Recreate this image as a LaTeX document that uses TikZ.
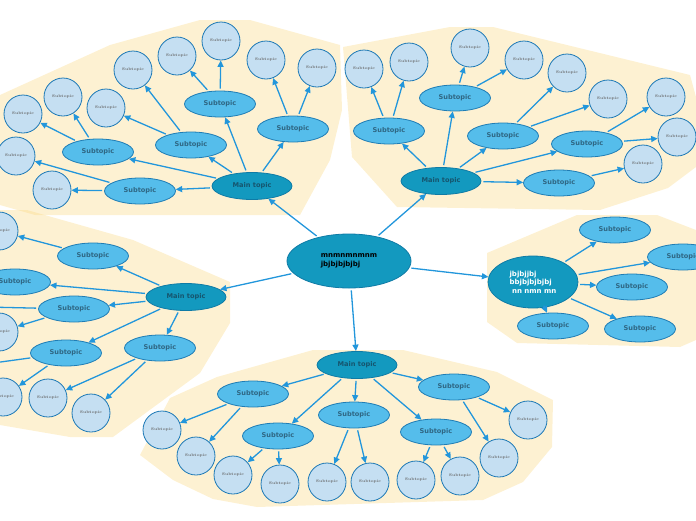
\documentclass[tikz,border=0pt]{standalone}
\usepackage{fontspec}
\usepackage{tikz}
\usepackage{xcolor}
\usetikzlibrary{arrows.meta,shapes.geometric}
\newfontfamily\topicfont{DejaVu Sans}
\definecolor{cream}{HTML}{FAD77F}
\definecolor{hubfill}{HTML}{1399BF}
\definecolor{hubline}{HTML}{0F7BA6}
\definecolor{maintext}{HTML}{16556E}
\definecolor{subfill}{HTML}{55BDEB}
\definecolor{subline}{HTML}{1F7DB5}
\definecolor{subtext}{HTML}{2F6784}
\definecolor{leaffill}{HTML}{C5DFF2}
\definecolor{leafline}{HTML}{1C78B5}
\definecolor{edge}{HTML}{2296DB}

\begin{document}
\begin{tikzpicture}[
          x=1pt, y=-1pt,
          zone/.style={fill=cream, fill opacity=0.35, draw=none},
          hub/.style={ellipse, draw=hubline, fill=hubfill, line width=0.8pt, inner sep=0pt, align=left, font=\topicfont\bfseries\fontsize{7}{8.5}\selectfont},
          maintopic/.style={ellipse, draw=hubline, fill=hubfill, line width=0.8pt, minimum width=80pt, minimum height=27pt, inner sep=0pt, font=\topicfont\bfseries\fontsize{6.6}{8}\selectfont, text=maintext},
          subtopic/.style={ellipse, draw=subline, fill=subfill, line width=0.8pt, minimum width=71pt, minimum height=26pt, inner sep=0pt, font=\topicfont\bfseries\fontsize{6.6}{8}\selectfont, text=subtext},
          leaf/.style={circle, draw=leafline, fill=leaffill, line width=0.8pt, minimum size=38pt, inner sep=0pt, font=\bfseries\fontsize{3.8}{4.5}\selectfont, text=black!60},
          arr/.style={-{Triangle[length=6.5pt,width=6pt]}, draw=edge, line width=1.3pt, shorten <=2pt}
      ]
        \useasboundingbox (0,0) rectangle (696,520);
        % background zones
        \fill[zone] (0,95) -- (110,45) -- (200,20) -- (250,20) -- (340,45) -- (342,110) -- (330,160) -- (300,215) -- (35,215) -- (0,205) -- cycle;
        \fill[zone] (343,47) -- (450,27) -- (493,27) -- (690,75) -- (696,97) -- (696,167) -- (668,188) -- (600,210) -- (397,207) -- (352,157) -- cycle;
        \fill[zone] (0,210) -- (27,210) -- (133,240) -- (230,282) -- (230,323) -- (200,373) -- (113,437) -- (70,437) -- (0,425) -- cycle;
        \fill[zone] (140,455) -- (170,398) -- (217,377) -- (313,350) -- (403,350) -- (497,372) -- (553,400) -- (552,447) -- (523,482) -- (483,500) -- (257,507) -- (213,499) -- (173,480) -- cycle;
        \fill[zone] (487,253) -- (577,215) -- (657,215) -- (696,230) -- (696,340) -- (680,347) -- (517,343) -- (487,322) -- cycle;

        % central topic
        \node[hub, minimum width=124pt, minimum height=54pt] (ct) at (349,261) {mnmnmnmnm\\jbjbjbjbjbj};

        % top left
        \node[maintopic] (mtl) at (252,186) {Main topic};
        \node[subtopic] (tl1) at (220,104) {Subtopic};
        \node[subtopic] (tl2) at (191,145) {Subtopic};
        \node[subtopic] (tl3) at (98,152) {Subtopic};
        \node[subtopic] (tl4) at (140,191) {Subtopic};
        \node[subtopic] (tl5) at (293,129) {Subtopic};
        \node[leaf] (tl1a) at (221,41) {Subtopic};
        \node[leaf] (tl1b) at (177,56) {Subtopic};
        \node[leaf] (tl2a) at (133,70) {Subtopic};
        \node[leaf] (tl2b) at (106,108) {Subtopic};
        \node[leaf] (tl3a) at (63,97) {Subtopic};
        \node[leaf] (tl3b) at (23,114) {Subtopic};
        \node[leaf] (tl4a) at (16,156) {Subtopic};
        \node[leaf] (tl4b) at (52,190) {Subtopic};
        \node[leaf] (tl5a) at (266,60) {Subtopic};
        \node[leaf] (tl5b) at (317,68) {Subtopic};

        % top right
        \node[maintopic] (mtr) at (441,181) {Main topic};
        \node[subtopic] (tr1) at (389,131) {Subtopic};
        \node[subtopic] (tr2) at (455,98) {Subtopic};
        \node[subtopic] (tr3) at (503,136) {Subtopic};
        \node[subtopic] (tr4) at (587,144) {Subtopic};
        \node[subtopic] (tr5) at (559,183) {Subtopic};
        \node[leaf] (tr1a) at (364,69) {Subtopic};
        \node[leaf] (tr1b) at (409,62) {Subtopic};
        \node[leaf] (tr2a) at (470,48) {Subtopic};
        \node[leaf] (tr2b) at (524,60) {Subtopic};
        \node[leaf] (tr3a) at (567,73) {Subtopic};
        \node[leaf] (tr3b) at (608,99) {Subtopic};
        \node[leaf] (tr4a) at (666,97) {Subtopic};
        \node[leaf] (tr4b) at (677,137) {Subtopic};
        \node[leaf] (tr5a) at (643,164) {Subtopic};

        % left
        \node[maintopic] (ml) at (186,297) {Main topic};
        \node[subtopic] (l1) at (93,256) {Subtopic};
        \node[subtopic] (l2) at (15,282) {Subtopic};
        \node[subtopic] (l3) at (74,309) {Subtopic};
        \node[subtopic] (l4) at (66,353) {Subtopic};
        \node[subtopic] (l5) at (160,348) {Subtopic};
        \node[leaf] (l1a) at (-1,231) {Subtopic};
        \node[leaf] (l3a) at (-1,332) {Subtopic};
        \node[leaf] (l4a) at (3,397) {Subtopic};
        \node[leaf] (l5a) at (48,398) {Subtopic};
        \node[leaf] (l5b) at (91,413) {Subtopic};
        \coordinate (l3o) at (-14,307);
        \coordinate (l4o) at (-14,364);

        % bottom
        \node[maintopic] (mb) at (357,365) {Main topic};
        \node[subtopic] (b1) at (253,394) {Subtopic};
        \node[subtopic] (b2) at (278,436) {Subtopic};
        \node[subtopic] (b3) at (354,415) {Subtopic};
        \node[subtopic] (b4) at (436,432) {Subtopic};
        \node[subtopic] (b5) at (454,387) {Subtopic};
        \node[leaf] (b1a) at (162,430) {Subtopic};
        \node[leaf] (b1b) at (196,456) {Subtopic};
        \node[leaf] (b2a) at (233,475) {Subtopic};
        \node[leaf] (b2b) at (280,484) {Subtopic};
        \node[leaf] (b3a) at (327,482) {Subtopic};
        \node[leaf] (b3b) at (370,482) {Subtopic};
        \node[leaf] (b4a) at (416,480) {Subtopic};
        \node[leaf] (b4b) at (460,476) {Subtopic};
        \node[leaf] (b5a) at (499,458) {Subtopic};
        \node[leaf] (b5b) at (528,420) {Subtopic};

        % right
        \node[subtopic] (r5) at (553,326) {Subtopic};
        \node[hub, minimum width=90pt, minimum height=52pt, text=white] (mr) at (533,282) {jbjbjjbj\\bbjbjbjbjbj\\\ nn nmn mn};
        \node[subtopic] (r1) at (615,230) {Subtopic};
        \node[subtopic] (r2) at (683,257) {Subtopic};
        \node[subtopic] (r3) at (632,287) {Subtopic};
        \node[subtopic] (r4) at (640,329) {Subtopic};

        % connectors
        \foreach \a/\b in {ct/mtl, ct/mtr, ct/ml, ct/mb, ct/mr,
                           mtl/tl1, mtl/tl2, mtl/tl3, mtl/tl4, mtl/tl5,
                           tl1/tl1a, tl1/tl1b, tl2/tl2a, tl2/tl2b, tl3/tl3a, tl3/tl3b,
                           tl4/tl4a, tl4/tl4b, tl5/tl5a, tl5/tl5b,
                           mtr/tr1, mtr/tr2, mtr/tr3, mtr/tr4, mtr/tr5,
                           tr1/tr1a, tr1/tr1b, tr2/tr2a, tr2/tr2b, tr3/tr3a, tr3/tr3b,
                           tr4/tr4a, tr4/tr4b, tr5/tr5a,
                           ml/l1, ml/l2, ml/l3, ml/l4, ml/l5,
                           l1/l1a, l3/l3o, l3/l3a, l4/l4o, l4/l4a, l5/l5a, l5/l5b,
                           mb/b1, mb/b2, mb/b3, mb/b4, mb/b5,
                           b1/b1a, b1/b1b, b2/b2a, b2/b2b, b3/b3a, b3/b3b,
                           b4/b4a, b4/b4b, b5/b5a, b5/b5b,
                           mr/r1, mr/r2, mr/r3, mr/r4, mr/r5}
          \draw[arr] (\a) -- (\b);
\end{tikzpicture}
\end{document}
